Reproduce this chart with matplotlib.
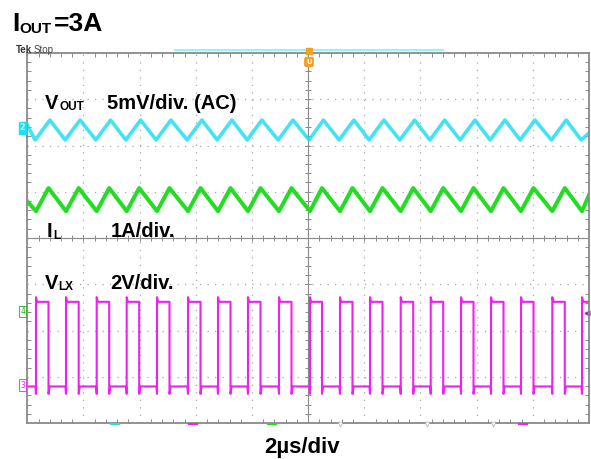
import numpy as np
import matplotlib.pyplot as plt
from matplotlib.lines import Line2D

# scope settings: 2us/div, 10 div wide, 8 div tall
t_span = 20.0
y_span = 4.0

# switching node edges (us)
lx_rise = [0.310, 1.378, 2.471, 3.539, 4.618, 5.722, 6.790, 7.858, 8.962, 10.066,
           11.134, 12.202, 13.296, 14.364, 15.443, 16.511, 17.579, 18.693, 19.751]
lx_fall = [0.755, 1.830, 2.916, 3.984, 5.063, 6.167, 7.235, 8.303, 9.407, 10.493,
           11.579, 12.647, 13.741, 14.809, 15.888, 16.956, 18.024, 19.138]

# levels in divisions (screen centre = 0)
lx_high, lx_low, lx_dip, lx_over = -1.38, -3.21, -3.37, -1.28
il_peak, il_valley, il_start, il_end = 1.08, 0.58, 0.79, 0.93
vo_peak, vo_valley, vo_start, vo_end = 2.55, 2.12, 2.44, 2.27

ch2_level, ch4_level, ch3_level = 2.38, -1.59, -3.18

c_vout = '#22dff0'
c_il = '#22dd22'
c_lx = '#f020f0'


def build_lx():
    t, v = [0.0], [lx_low]
    for i, r in enumerate(lx_rise):
        t += [r - 0.02, r, r, r + 0.04]
        v += [lx_low, lx_dip, lx_over, lx_high]
        if i < len(lx_fall):
            f = lx_fall[i]
            t += [f, f, f + 0.04]
            v += [lx_high, lx_dip, lx_low]
    t.append(t_span)
    v.append(lx_high)
    return t, v


def build_tri(start, valley, peak, end, dt_v=0.0, dt_p=0.0):
    t, v = [0.0], [start]
    for i, r in enumerate(lx_rise):
        t.append(r + dt_v)
        v.append(valley)
        if i < len(lx_fall):
            t.append(lx_fall[i] + dt_p)
            v.append(peak)
    t.append(t_span)
    v.append(end)
    return t, v


W, H = 591, 459
fig = plt.figure(figsize=(W / 100, H / 100), dpi=100)
fig.patch.set_facecolor('white')

left, right, top, bottom = 27.3, 589.0, 53.0, 423.0
ax = fig.add_axes([left / W, 1 - bottom / H, (right - left) / W, (bottom - top) / H])
ax.set_xlim(0, t_span)
ax.set_ylim(-y_span, y_span)

# graticule
ax.set_xticks(np.arange(0, t_span + 0.01, 2))
ax.set_yticks(np.arange(-y_span, y_span + 0.01, 1))
ax.set_xticks(np.arange(0, t_span + 0.01, 0.4), minor=True)
ax.set_yticks(np.arange(-y_span, y_span + 0.01, 0.2), minor=True)
ax.tick_params(which='both', labelbottom=False, labelleft=False, direction='in',
               top=True, right=True, color='#8a8a8a')
ax.tick_params(which='major', length=0)
ax.tick_params(which='minor', length=3, width=0.7)
ax.grid(True, which='major', color='#a8a8a8', linestyle=(0, (1, 5)), linewidth=0.9)
for s in ax.spines.values():
    s.set_color('#8a8a8a')
    s.set_linewidth(1.3)

ax.axvline(t_span / 2, color='#8a8a8a', lw=0.8)
ax.axhline(0, color='#8a8a8a', lw=0.8)
xm = np.arange(0.4, t_span, 0.4)
ym = np.arange(-y_span + 0.2, y_span, 0.2)
ax.plot(xm, np.zeros_like(xm), '|', ms=4, color='#8a8a8a', mew=0.7)
ax.plot(np.full_like(ym, t_span / 2), ym, '_', ms=4, color='#8a8a8a', mew=0.7)

# traces
t, v = build_tri(vo_start, vo_valley, vo_peak, vo_end, -0.03, 0.05)
ax.plot(t, v, color=c_vout, lw=2.6, alpha=0.85, solid_joinstyle='round')
t, v = build_tri(il_start, il_valley, il_peak, il_end)
ax.plot(t, v, color=c_il, lw=2.9, solid_joinstyle='round')
t, v = build_lx()
ax.plot(t, v, color=c_lx, lw=1.5)

# channel markers on the left edge
ax.text(-0.08, ch2_level, '2', ha='right', va='center', fontsize=5.5, color='white',
        fontweight='bold', clip_on=False,
        bbox=dict(boxstyle='square,pad=0.15', fc=c_vout, ec=c_vout))
ax.text(-0.08, ch4_level, '4', ha='right', va='center', fontsize=5.5, color='#22aa22',
        clip_on=False, bbox=dict(boxstyle='square,pad=0.15', fc='white', ec='#22aa22', lw=0.6))
ax.text(-0.08, ch3_level, '3', ha='right', va='center', fontsize=5.5, color=c_lx,
        clip_on=False, bbox=dict(boxstyle='square,pad=0.15', fc='white', ec=c_lx, lw=0.6))
ax.plot([t_span - 0.08], [-1.62], marker='<', ms=3.5, color='#c020c0', clip_on=False)

# small markers on the bottom edge
for xp, col in [(115, c_vout), (193, c_lx), (272, c_il), (523, c_lx)]:
    fig.add_artist(Line2D([(xp - 4) / W, (xp + 4) / W], [1 - 423.5 / H] * 2,
                          color=col, lw=1.5))
for xp in [340, 427, 493]:
    fig.add_artist(Line2D([xp / W], [1 - 424 / H], marker='v', ms=3.5,
                          color='white', mec='#aaaaaa', mew=0.5))

# record bar and trigger marker at the top
fig.add_artist(Line2D([175 / W, 443 / W], [1 - 50 / H] * 2, color='#7ff0f8', lw=1.2))
fig.add_artist(Line2D([309 / W], [1 - 51 / H], marker='s', ms=4.5, color='#f5a020'))
fig.text(309 / W, 1 - 62 / H, 'U', ha='center', va='center', fontsize=5, color='white',
         fontweight='bold', bbox=dict(boxstyle='round,pad=0.2', fc='#f5a020', ec='#f5a020'))

fig.text(16 / W, 1 - 53 / H, 'Tek', fontsize=7, fontweight='bold', color='#333333',
         family='Liberation Sans', va='baseline')
fig.text(34 / W, 1 - 53 / H, 'Stop', fontsize=7, color='#444444',
         family='Liberation Sans', va='baseline')

# annotations
bold = dict(family='Liberation Sans', fontweight='bold', color='black', va='baseline')
fig.text(12 / W, 1 - 31 / H, 'I', fontsize=19, **bold)
fig.text(19 / W, 1 - 33 / H, 'OUT', fontsize=11, **bold)
fig.text(54 / W, 1 - 31 / H, '=3A', fontsize=19, **bold)

fig.text(45 / W, 1 - 109 / H, 'V', fontsize=14.5, **bold)
fig.text(59 / W, 1 - 110 / H, 'OUT', fontsize=8.5, **bold)
fig.text(107 / W, 1 - 109 / H, '5mV/div. (AC)', fontsize=14.5, **bold)

fig.text(47 / W, 1 - 237 / H, 'I', fontsize=14.5, **bold)
fig.text(53 / W, 1 - 239 / H, 'L', fontsize=8.5, **bold)
fig.text(111 / W, 1 - 237 / H, '1A/div.', fontsize=14.5, **bold)

fig.text(45 / W, 1 - 289 / H, 'V', fontsize=14.5, **bold)
fig.text(58 / W, 1 - 290 / H, 'LX', fontsize=8.5, **bold)
fig.text(110 / W, 1 - 289 / H, '2V/div.', fontsize=14.5, **bold)

fig.text(302 / W, 1 - 453 / H, '2\u00b5s/div', fontsize=16, ha='center', **bold)

fig.savefig('out.png', dpi=100, facecolor='white')
